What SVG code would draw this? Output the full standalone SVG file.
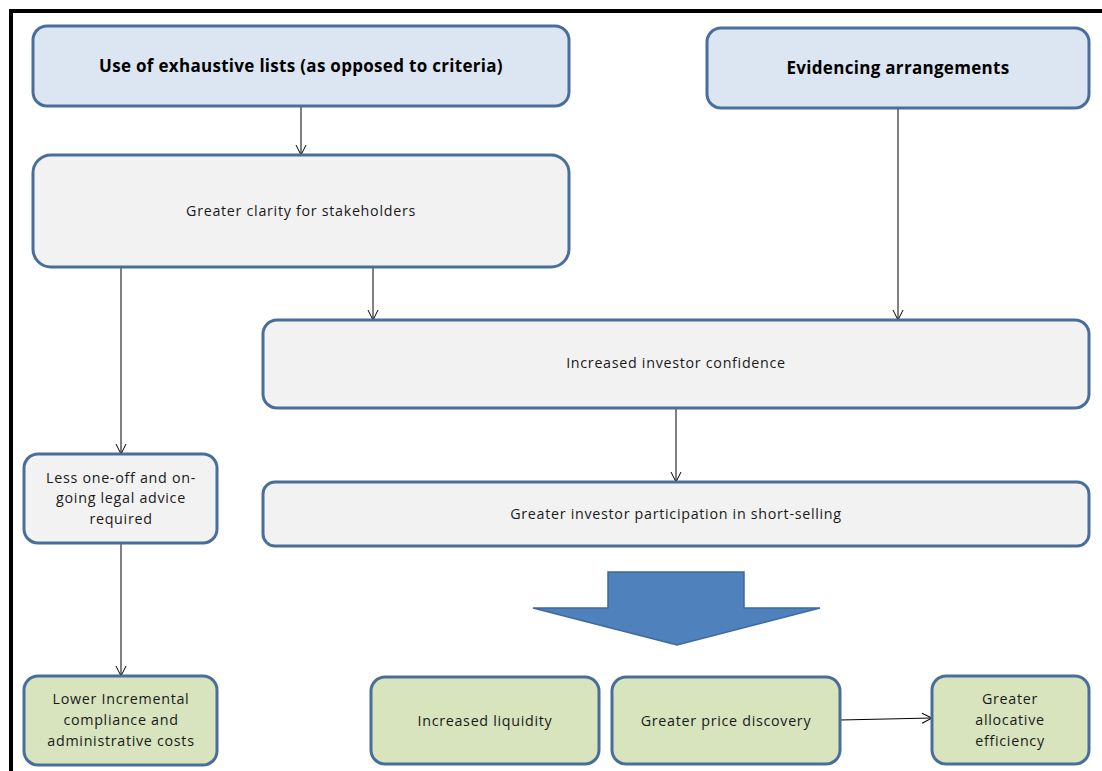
<svg xmlns="http://www.w3.org/2000/svg" width="1102" height="771" viewBox="0 0 1102 771">
  <style>
    .box { stroke: #4a6e9b; stroke-width: 3; }
    .blue { fill: #dce6f2; }
    .grey { fill: #f2f2f2; }
    .green { fill: #d7e4bd; }
    .t { font-family: "Open Sans", "Liberation Sans", Arial, sans-serif; font-size: 14.3px; letter-spacing: 0.7px; fill: #1a1a1a; text-anchor: middle; }
    .b { font-weight: bold; font-size: 17px; letter-spacing: 0.3px; fill: #000; }
    .c { stroke: #000; stroke-width: 1; fill: none; marker-end: url(#open); }
  </style>
  <defs>
    <marker id="open" viewBox="0 0 12 12" refX="11" refY="6" markerWidth="12" markerHeight="12" markerUnits="userSpaceOnUse" orient="auto">
      <path d="M1,1 L11,6 L1,11" fill="none" stroke="#000" stroke-width="1"/>
    </marker>
  </defs>
  <rect width="1102" height="771" fill="#fff"/>
  <!-- page frame -->
  <path d="M11,771 V11 H1102" fill="none" stroke="#000" stroke-width="4"/>

  <g id="connectors">
    <path class="c" d="M301,106 V155"/>
    <path class="c" d="M898,108 V320"/>
    <path class="c" d="M373,267 V320"/>
    <path class="c" d="M121,267 V454"/>
    <path class="c" d="M676,408 V482"/>
    <path class="c" d="M121,543 V676"/>
    <path class="c" d="M840,720 L932,718"/>
  </g>

  <g id="exhaustive-lists">
    <rect class="box blue" x="33" y="26" width="536" height="80" rx="14"/>
    <text class="t b" x="301" y="72">Use of exhaustive lists (as opposed to criteria)</text>
  </g>
  <g id="evidencing">
    <rect class="box blue" x="707" y="28" width="382" height="80" rx="14"/>
    <text class="t b" x="898" y="74">Evidencing arrangements</text>
  </g>
  <g id="clarity">
    <rect class="box grey" x="33" y="155" width="536" height="112" rx="18"/>
    <text class="t" x="301" y="216">Greater clarity for stakeholders</text>
  </g>
  <g id="confidence">
    <rect class="box grey" x="263" y="320" width="826" height="88" rx="14"/>
    <text class="t" x="676" y="368">Increased  investor confidence</text>
  </g>
  <g id="legal-advice">
    <rect class="box grey" x="24" y="454" width="193" height="89" rx="14"/>
    <text class="t" x="121" y="483">Less one-off and on-</text>
    <text class="t" x="121" y="503">going legal advice</text>
    <text class="t" x="121" y="524">required</text>
  </g>
  <g id="participation">
    <rect class="box grey" x="263" y="482" width="826" height="64" rx="12"/>
    <text class="t" x="676" y="519">Greater investor participation in short-selling</text>
  </g>
  <g id="big-arrow">
    <path d="M608,572 H744 V608 H820 L677,645 L533,608 H608 Z" fill="#4f81bd" stroke="#3d6aa0" stroke-width="1.5"/>
  </g>
  <g id="lower-costs">
    <rect class="box green" x="24" y="676" width="193" height="89" rx="14"/>
    <text class="t" x="121" y="704">Lower Incremental</text>
    <text class="t" x="121" y="725">compliance and</text>
    <text class="t" x="121" y="746">administrative costs</text>
  </g>
  <g id="liquidity">
    <rect class="box green" x="371" y="677" width="228" height="87" rx="14"/>
    <text class="t" x="485" y="726">Increased  liquidity</text>
  </g>
  <g id="price-discovery">
    <rect class="box green" x="612" y="677" width="228" height="87" rx="14"/>
    <text class="t" x="726" y="726">Greater price discovery</text>
  </g>
  <g id="allocative">
    <rect class="box green" x="932" y="676" width="157" height="88" rx="14"/>
    <text class="t" x="1010" y="704">Greater</text>
    <text class="t" x="1010" y="725">allocative</text>
    <text class="t" x="1010" y="746">efficiency</text>
  </g>
</svg>
